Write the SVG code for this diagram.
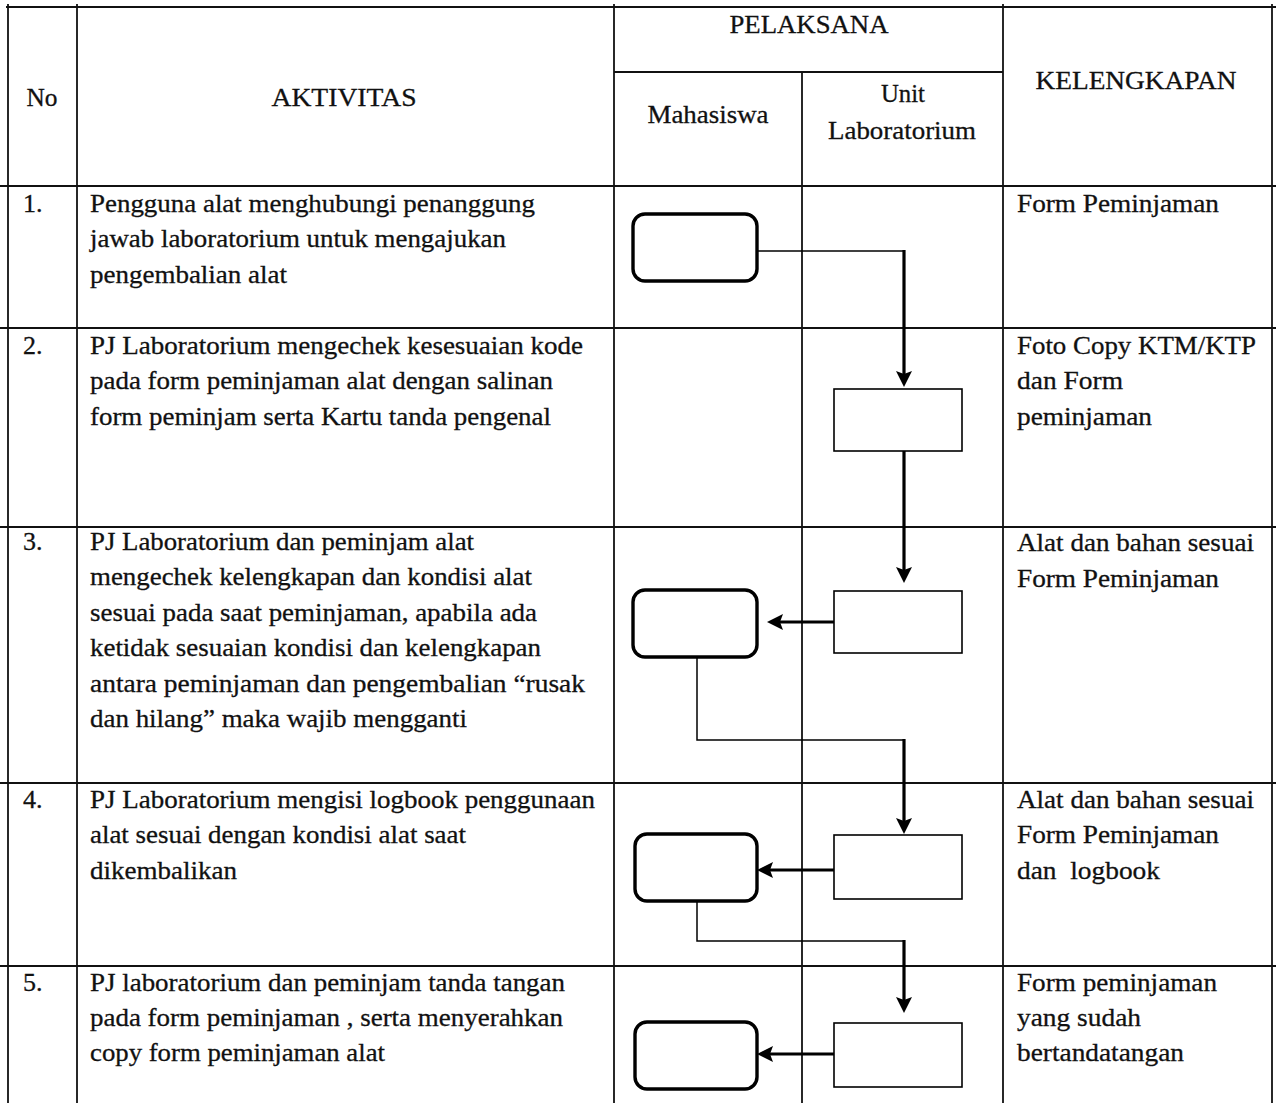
<svg xmlns="http://www.w3.org/2000/svg" width="1276" height="1103" viewBox="0 0 1276 1103">
<style>
.grid{stroke:#111;stroke-width:1.8;fill:none}
.t{font-family:"Liberation Serif","Times New Roman",serif;font-size:26px;fill:#111;stroke:#111;stroke-width:0.3}
.c{text-anchor:middle}
.term{fill:#fff;stroke:#000;stroke-width:3.4}
.proc{fill:#fff;stroke:#000;stroke-width:1.6}
.thin{stroke:#000;stroke-width:1.5;fill:none}
.thick{stroke:#000;stroke-width:3.2;fill:none}
</style>
<defs>
<marker id="ah" markerUnits="userSpaceOnUse" markerWidth="16" markerHeight="16" viewBox="0 0 16 16" refX="3" refY="8" orient="auto">
<path d="M0,0 L16,8 L0,16 L3,8 Z" fill="#000"/>
</marker>
</defs>
<rect width="1276" height="1103" fill="#fff"/>
<g id="table" class="grid">
<line x1="6" y1="7" x2="1276" y2="7"/>
<line x1="614" y1="72" x2="1003" y2="72"/>
<line x1="0" y1="186" x2="1276" y2="186"/>
<line x1="0" y1="328" x2="1276" y2="328"/>
<line x1="0" y1="527" x2="1276" y2="527"/>
<line x1="0" y1="783" x2="1276" y2="783"/>
<line x1="0" y1="966" x2="1276" y2="966"/>
<line x1="8" y1="4" x2="8" y2="1103"/>
<line x1="77" y1="4" x2="77" y2="1103"/>
<line x1="614" y1="4" x2="614" y2="1103"/>
<line x1="802" y1="72" x2="802" y2="1103"/>
<line x1="1003" y1="4" x2="1003" y2="1103"/>
<line x1="1272" y1="4" x2="1272" y2="1103"/>
</g>
<g id="header" class="t">
<text class="c" x="42" y="106" textLength="31" lengthAdjust="spacingAndGlyphs">No</text>
<text class="c" x="344" y="106" textLength="145" lengthAdjust="spacingAndGlyphs">AKTIVITAS</text>
<text class="c" x="809" y="33" textLength="159" lengthAdjust="spacingAndGlyphs">PELAKSANA</text>
<text class="c" x="708" y="123" textLength="121" lengthAdjust="spacingAndGlyphs">Mahasiswa</text>
<text class="c" x="903" y="102" textLength="44" lengthAdjust="spacingAndGlyphs">Unit</text>
<text class="c" x="902" y="139" textLength="148" lengthAdjust="spacingAndGlyphs">Laboratorium</text>
<text class="c" x="1136" y="89" textLength="201" lengthAdjust="spacingAndGlyphs">KELENGKAPAN</text>
</g>
<g id="row1" class="t">
<text x="23" y="212">1.</text>
<text x="90" y="212" textLength="445" lengthAdjust="spacingAndGlyphs">Pengguna alat menghubungi penanggung</text>
<text x="90" y="247" textLength="416" lengthAdjust="spacingAndGlyphs">jawab laboratorium untuk mengajukan</text>
<text x="90" y="283" textLength="197" lengthAdjust="spacingAndGlyphs">pengembalian alat</text>
<text x="1017" y="212" textLength="202" lengthAdjust="spacingAndGlyphs">Form Peminjaman</text>
</g>
<g id="row2" class="t">
<text x="23" y="354">2.</text>
<text x="90" y="354" textLength="493" lengthAdjust="spacingAndGlyphs">PJ Laboratorium mengechek kesesuaian kode</text>
<text x="90" y="389" textLength="463" lengthAdjust="spacingAndGlyphs">pada form peminjaman alat dengan salinan</text>
<text x="90" y="425" textLength="461" lengthAdjust="spacingAndGlyphs">form peminjam serta Kartu tanda pengenal</text>
<text x="1017" y="354" textLength="239" lengthAdjust="spacingAndGlyphs">Foto Copy KTM/KTP</text>
<text x="1017" y="389" textLength="106" lengthAdjust="spacingAndGlyphs">dan Form</text>
<text x="1017" y="425" textLength="135" lengthAdjust="spacingAndGlyphs">peminjaman</text>
</g>
<g id="row3" class="t">
<text x="23" y="550">3.</text>
<text x="90" y="550" textLength="384" lengthAdjust="spacingAndGlyphs">PJ Laboratorium dan peminjam alat</text>
<text x="90" y="585" textLength="442" lengthAdjust="spacingAndGlyphs">mengechek kelengkapan dan kondisi alat</text>
<text x="90" y="621" textLength="447" lengthAdjust="spacingAndGlyphs">sesuai pada saat peminjaman, apabila ada</text>
<text x="90" y="656" textLength="451" lengthAdjust="spacingAndGlyphs">ketidak sesuaian kondisi dan kelengkapan</text>
<text x="90" y="692" textLength="495" lengthAdjust="spacingAndGlyphs">antara peminjaman dan pengembalian “rusak</text>
<text x="90" y="727" textLength="377" lengthAdjust="spacingAndGlyphs">dan hilang” maka wajib mengganti</text>
<text x="1017" y="551" textLength="237" lengthAdjust="spacingAndGlyphs">Alat dan bahan sesuai</text>
<text x="1017" y="587" textLength="202" lengthAdjust="spacingAndGlyphs">Form Peminjaman</text>
</g>
<g id="row4" class="t">
<text x="23" y="808">4.</text>
<text x="90" y="808" textLength="505" lengthAdjust="spacingAndGlyphs">PJ Laboratorium mengisi logbook penggunaan</text>
<text x="90" y="843" textLength="376" lengthAdjust="spacingAndGlyphs">alat sesuai dengan kondisi alat saat</text>
<text x="90" y="879" textLength="147" lengthAdjust="spacingAndGlyphs">dikembalikan</text>
<text x="1017" y="808" textLength="237" lengthAdjust="spacingAndGlyphs">Alat dan bahan sesuai</text>
<text x="1017" y="843" textLength="202" lengthAdjust="spacingAndGlyphs">Form Peminjaman</text>
<text x="1017" y="879" textLength="143" lengthAdjust="spacingAndGlyphs">dan&#160; logbook</text>
</g>
<g id="row5" class="t">
<text x="23" y="991">5.</text>
<text x="90" y="991" textLength="475" lengthAdjust="spacingAndGlyphs">PJ laboratorium dan peminjam tanda tangan</text>
<text x="90" y="1026" textLength="473" lengthAdjust="spacingAndGlyphs">pada form peminjaman , serta menyerahkan</text>
<text x="90" y="1061" textLength="295" lengthAdjust="spacingAndGlyphs">copy form peminjaman alat</text>
<text x="1017" y="991" textLength="200" lengthAdjust="spacingAndGlyphs">Form peminjaman</text>
<text x="1017" y="1026" textLength="124" lengthAdjust="spacingAndGlyphs">yang sudah</text>
<text x="1017" y="1061" textLength="167" lengthAdjust="spacingAndGlyphs">bertandatangan</text>
</g>
<g id="connectors">
<path class="thin" d="M757,251 H904"/>
<path class="thick" d="M904,250 V374" marker-end="url(#ah)"/>
<path class="thick" d="M904,451 V570" marker-end="url(#ah)"/>
<path class="thick" d="M834,622 H780" marker-end="url(#ah)"/>
<path class="thin" d="M697,657 V740 H904"/>
<path class="thick" d="M904,739 V821" marker-end="url(#ah)"/>
<path class="thick" d="M834,870 H770" marker-end="url(#ah)"/>
<path class="thin" d="M697,901 V941 H904"/>
<path class="thick" d="M904,940 V1000" marker-end="url(#ah)"/>
<path class="thick" d="M834,1054 H770" marker-end="url(#ah)"/>
</g>
<g id="n1-mhs"><rect class="term" x="633" y="214" width="124" height="67" rx="12"/></g>
<g id="n2-lab"><rect class="proc" x="834" y="389" width="128" height="62"/></g>
<g id="n3-lab"><rect class="proc" x="834" y="591" width="128" height="62"/></g>
<g id="n3-mhs"><rect class="term" x="633" y="590" width="124" height="67" rx="12"/></g>
<g id="n4-lab"><rect class="proc" x="834" y="835" width="128" height="64"/></g>
<g id="n4-mhs"><rect class="term" x="635" y="834" width="122" height="67" rx="12"/></g>
<g id="n5-lab"><rect class="proc" x="834" y="1023" width="128" height="64"/></g>
<g id="n5-mhs"><rect class="term" x="635" y="1022" width="122" height="67" rx="12"/></g>
</svg>
